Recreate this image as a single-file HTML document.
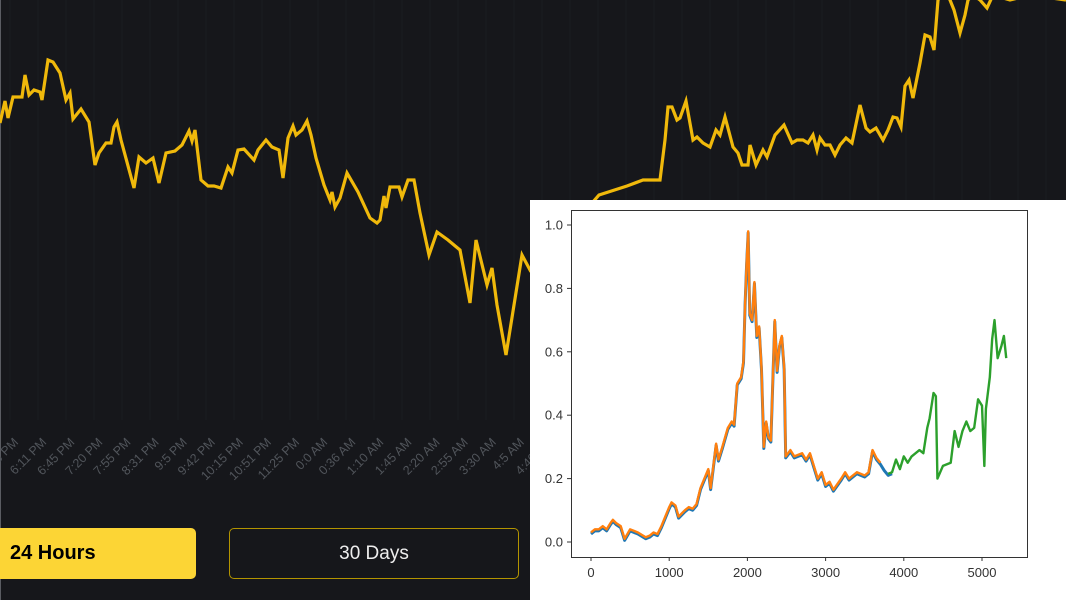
<!DOCTYPE html>
<html><head><meta charset="utf-8"><style>
html,body{margin:0;padding:0;width:1066px;height:600px;overflow:hidden;background:#16171b;font-family:"Liberation Sans",sans-serif}
#wrap{position:relative;width:1066px;height:600px}
svg{position:absolute;left:0;top:0}
.btn{position:absolute;box-sizing:border-box;border-radius:5px;display:flex;align-items:center}
</style></head><body>
<div id="wrap">
<svg id="bg" width="1066" height="600"></svg>
<div class="btn" style="left:-6px;top:528px;width:202px;height:51px;background:#fcd535;color:#000;font-weight:bold;font-size:20px;padding-left:16px">24 Hours</div>
<div class="btn" style="left:229px;top:528px;width:290px;height:51px;border:1px solid #b39400;color:#eee;font-size:19px;justify-content:center">30 Days</div>
<svg id="inset" width="536" height="400" style="left:530px;top:200px;background:#fff"></svg>
</div>
<script>
// ---- background 24h chart data ----
const timeIdx=[0,5,8,13,22,25,29,34,40,42,48,53,60,66,70,73,81,89,95,99,106,111,114,117,121,134,139,146,153,159,166,175,182,189,192,195,201,208,214,221,228,232,238,244,254,258,266,272,279,283,288,293,296,302,307,311,316,324,330,332,335,340,347,358,370,377,380,384,386,390,399,402,408,414,420,429,437,448,460,470,476,487,492,497,506,510,518,522,530,560,599,627,643,660,665,668,672,677,680,686,693,697,703,710,716,720,725,733,738,742,748,750,756,763,767,775,784,792,797,803,808,813,817,820,825,830,835,840,846,852,860,866,870,876,883,888,893,897,901,905,909,913,920,925,930,934,938,945,950,954,960,965,968,973,980,987,993,1010,1030,1066];
const priceVals=[47.7,49.9,48.2,50.3,50.3,52.5,50.5,51,50.8,50,54,53.8,52.7,50,50.7,48.1,49.1,47.8,43.5,44.7,45.7,45.7,47.3,47.8,46,41.2,44.3,43.7,44.2,41.7,44.7,44.9,45.5,46.9,45.9,47,42,41.4,41.4,41.2,43.3,42.7,45,45.1,44,45,46,45.3,45,42.2,46.2,47.4,46.5,47,47.9,46.5,44.2,41.5,40,40.8,39.3,40.2,42.7,40.8,38.2,37.7,38,40.4,39.2,41.3,41.3,40.3,42,42,38.7,34.5,36.8,36,35,29.7,36,31.5,33.2,29.5,24.5,27,32,34.5,33,36,40.5,41.4,42,42,46,49.3,49.3,48,48.2,49.9,46,46.3,45.7,45.3,47,46.5,48.3,45.3,44.7,43.5,43.5,45.5,43.5,45,44.3,46.5,47.5,45.7,46,46,45.7,46.5,45,46.2,45.5,45.5,44.5,45.5,46.2,45.7,49.5,47.2,46.8,47.2,46,47,48.3,48.2,47.3,51.4,52,50.2,53.7,56.5,56.3,55,60,61,60,59,56.7,58.5,60,60.5,60,59.2,60.5,60,60.5,60];
const timeLabels=["5:36 PM","6:11 PM","6:45 PM","7:20 PM","7:55 PM","8:31 PM","9:5 PM","9:42 PM","10:15 PM","10:51 PM","11:25 PM","0:0 AM","0:36 AM","1:10 AM","1:45 AM","2:20 AM","2:55 AM","3:30 AM","4:5 AM","4:40 AM"];
// ---- inset data ----
const sampleIdx=[0,50,100,150,200,250,280,320,380,430,500,600,700,750,800,850,900,950,1000,1030,1080,1120,1200,1250,1300,1350,1400,1450,1500,1530,1570,1600,1630,1680,1750,1800,1830,1870,1920,1950,1970,1990,2010,2030,2060,2090,2120,2150,2180,2210,2240,2270,2300,2330,2350,2380,2410,2440,2470,2490,2550,2600,2700,2750,2800,2850,2900,2950,3000,3050,3100,3200,3250,3300,3400,3500,3550,3600,3650,3700,3750,3800,3850,3900,3950,4000,4050,4100,4200,4250,4300,4330,4380,4410,4430,4500,4600,4650,4700,4750,4800,4850,4900,4950,5000,5030,5050,5100,5130,5160,5200,5250,5280,5310];
const normVals=[0.03,0.04,0.04,0.05,0.04,0.06,0.07,0.06,0.05,0.01,0.04,0.03,0.015,0.02,0.03,0.025,0.05,0.08,0.11,0.125,0.115,0.08,0.1,0.11,0.105,0.12,0.17,0.2,0.23,0.17,0.25,0.31,0.26,0.3,0.36,0.38,0.37,0.5,0.52,0.57,0.75,0.88,0.98,0.72,0.7,0.82,0.65,0.68,0.55,0.3,0.38,0.33,0.32,0.55,0.7,0.54,0.62,0.65,0.55,0.27,0.29,0.27,0.28,0.26,0.28,0.24,0.2,0.22,0.18,0.19,0.165,0.2,0.22,0.2,0.22,0.21,0.22,0.29,0.265,0.25,0.23,0.215,0.22,0.26,0.23,0.27,0.25,0.27,0.29,0.28,0.36,0.39,0.47,0.46,0.2,0.24,0.25,0.35,0.3,0.35,0.38,0.35,0.36,0.45,0.43,0.24,0.42,0.52,0.64,0.7,0.58,0.62,0.65,0.58];
const yTicks=[0.0,0.2,0.4,0.6,0.8,1.0];
const xTicks=[0,1000,2000,3000,4000,5000];
const trainEnd=3850, fitEnd=3720, testStart=3800;

const NS="http://www.w3.org/2000/svg";
function mk(parent,tag,attrs){const e=document.createElementNS(NS,tag);for(const k in attrs)e.setAttribute(k,attrs[k]);parent.appendChild(e);return e;}

// background chart
const bg=document.getElementById('bg');
const bx=t=>t, by=p=>600-p*10;
for(let i=0;i<40;i++){const g=mk(bg,'line',{x1:i*28+10,x2:i*28+10,y1:0,y2:420,stroke:'#1b1c21','stroke-width':1});

}
const bd=mk(bg,'line',{x1:0.5,x2:0.5,y1:0,y2:600,stroke:'#5a5c62','stroke-width':1});


const pl=mk(bg,'polyline',{points:timeIdx.map((t,i)=>bx(t)+','+by(priceVals[i])).join(' '),fill:'none',stroke:'#f0b90b','stroke-width':3.2,'stroke-linejoin':'miter'});


timeLabels.forEach((l,i)=>{const x=19+i*28.1,y=443;
const t=mk(bg,'text',{x:x,y:y,'text-anchor':'end',fill:'#51555b','font-size':12.5,transform:`rotate(-45 ${x} ${y})`});
t.textContent=l;

});

// inset
const s=document.getElementById('inset');
const L=41,R=497,T=10,B=357;
const sx=v=>61+v*(452-61)/5000, sy=v=>342-v*(342-25);
const fr=mk(s,'rect',{x:L+0.5,y:T+0.5,width:R-L,height:B-T,fill:'none',stroke:'#333','stroke-width':1});


yTicks.forEach(v=>{const y=sy(v);mk(s,'line',{x1:L-4,x2:L,y1:y,y2:y,stroke:'#333'});
const t=mk(s,'text',{x:L-8,y:y+4.5,'text-anchor':'end','font-size':13,fill:'#333'});t.textContent=v.toFixed(1);

});
xTicks.forEach(v=>{const x=sx(v);mk(s,'line',{x1:x,x2:x,y1:B,y2:B+4,stroke:'#333'});
const t=mk(s,'text',{x:x,y:B+20,'text-anchor':'middle','font-size':13,fill:'#333'});t.textContent=v;

});
function seg(lo,hi,color,w,name,off){const pts=[];sampleIdx.forEach((k,i)=>{if(k>=lo&&k<=hi)pts.push(sx(k)+','+(sy(normVals[i])+off));});
const p=mk(s,'polyline',{points:pts.join(' '),fill:'none',stroke:color,'stroke-width':w,'stroke-linejoin':'round'});

}
seg(0,trainEnd,'#1f77b4',3,'actual-series',1.5);
seg(0,fitEnd,'#ff7f0e',2.4,'train-prediction-series',0);
seg(testStart,99999,'#2ca02c',2.4,'test-prediction-series',0);
</script>
</body></html>
